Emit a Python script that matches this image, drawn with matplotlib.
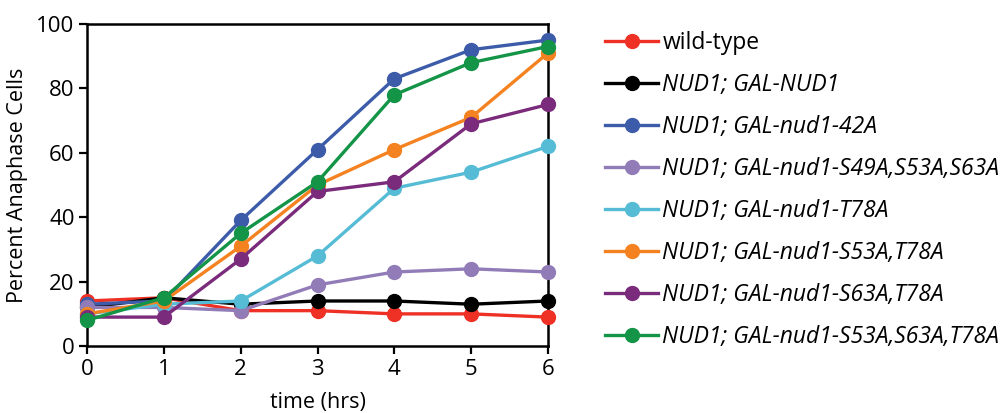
import matplotlib
matplotlib.use("Agg")
import matplotlib.pyplot as plt

plt.rcParams["font.family"] = ["Open Sans", "DejaVu Sans"]

# time points (hrs)
hours = [0, 1, 2, 3, 4, 5, 6]

# percent anaphase cells per strain
wild_type = [14, 15, 11, 11, 10, 10, 9]
gal_nud1 = [12, 15, 13, 14, 14, 13, 14]
nud1_42a = [13, 14, 39, 61, 83, 92, 95]
s49_s53_s63 = [12, 12, 11, 19, 23, 24, 23]
t78a = [10, 13, 14, 28, 49, 54, 62]
s53_t78 = [10, 14, 31, 50, 61, 71, 91]
s63_t78 = [9, 9, 27, 48, 51, 69, 75]
s53_s63_t78 = [8, 15, 35, 51, 78, 88, 93]

labels = [
    "wild-type",
    "NUD1; GAL-NUD1",
    "NUD1; GAL-nud1-42A",
    "NUD1; GAL-nud1-S49A,S53A,S63A",
    "NUD1; GAL-nud1-T78A",
    "NUD1; GAL-nud1-S53A,T78A",
    "NUD1; GAL-nud1-S63A,T78A",
    "NUD1; GAL-nud1-S53A,S63A,T78A",
]
colors = ["#ee3124", "#000000", "#3c5ba9", "#927cb8",
          "#56bcd6", "#f58220", "#7b2b7b", "#139447"]
series = [wild_type, gal_nud1, nud1_42a, s49_s53_s63,
          t78a, s53_t78, s63_t78, s53_s63_t78]

fig = plt.figure(figsize=(10, 4.13), dpi=100)
ax = fig.add_axes([0.087, 0.162, 0.461, 0.78])

for vals, lab, c in zip(series, labels, colors):
    ax.plot(hours, vals, color=c, lw=2.4, marker="o", ms=10,
            label=lab, clip_on=False, zorder=3)

ax.set_xlim(0, 6)
ax.set_ylim(0, 100)
ax.set_xticks(hours)
ax.set_yticks([0, 20, 40, 60, 80, 100])
ax.tick_params(direction="out", length=6, width=1.6, labelsize=16, pad=3)
for sp in ax.spines.values():
    sp.set_linewidth(1.8)
ax.set_xlabel("time (hrs)", fontsize=15.5, labelpad=9)
ax.set_ylabel("Percent Anaphase Cells", fontsize=15.5, labelpad=6)

leg = ax.legend(loc="upper left", bbox_to_anchor=(0.596, 0.946),
                bbox_transform=fig.transFigure, frameon=False,
                fontsize=16.5, handlelength=2.3, handletextpad=0.2,
                labelspacing=0.78, borderaxespad=0)
for i, t in enumerate(leg.get_texts()):
    if i > 0:
        t.set_style("italic")

fig.savefig("out.png", dpi=100)
